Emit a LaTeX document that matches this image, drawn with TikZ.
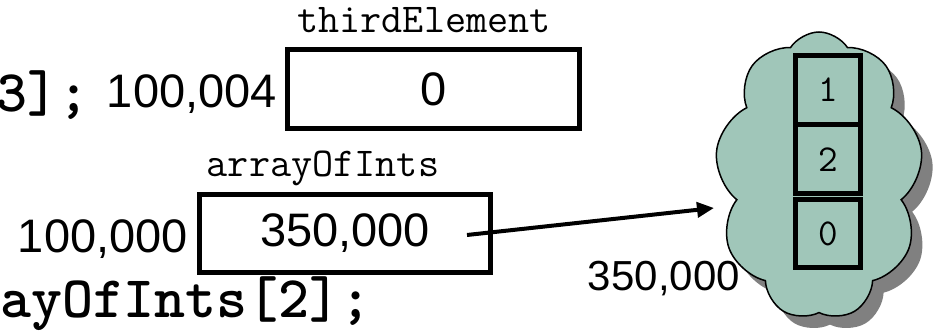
\documentclass[tikz,border=0pt]{standalone}
\usepackage{fontspec}
\setmainfont{Liberation Sans}
\newfontfamily\codebf{lmmonolt10-bold.otf}
\usetikzlibrary{shapes.symbols,arrows.meta}
\definecolor{cloudc}{RGB}{160,198,185}
\definecolor{shadowc}{RGB}{128,128,128}
\tikzset{
  membox/.style={draw, line width=5pt, inner sep=0pt, font=\fontsize{47}{50}\selectfont},
  addr/.style={inner sep=0pt, font=\fontsize{47}{50}\selectfont},
  varname/.style={inner sep=0pt, font=\ttfamily\fontsize{41}{44}\selectfont},
  codetxt/.style={inner sep=0pt, font=\codebf\fontsize{59}{62}\selectfont},
  cell/.style={draw, line width=5pt, inner sep=0pt, minimum width=65pt, minimum height=69pt, font=\ttfamily\fontsize{38}{40}\selectfont},
  heap/.style={cloud, cloud puffs=9, cloud puff arc=115, aspect=0.72, inner sep=0pt, minimum width=208pt, minimum height=288pt, line width=1.5pt},
  pointer/.style={line width=4pt, -{Triangle[length=17pt,width=15pt]}}
}
\begin{document}
\begin{tikzpicture}[x=1pt,y=-1pt]
\useasboundingbox[fill=white] (0,0) rectangle (938,336);
% code fragments
\node[codetxt, anchor=base east] (code1) at (90,112) {3];};
\node[codetxt, anchor=base east] (code2) at (372,318) {ayOfInts[2];};
% memory boxes
\node[varname, anchor=base] (lab1) at (424,33) {thirdElement};
\node[membox, minimum width=292pt, minimum height=79pt] (box1) at (433.5,89) {0};
\node[addr, anchor=base east] (addr1) at (277,108) {100,004};
\node[varname, anchor=base] (lab2) at (323,177) {arrayOfInts};
\node[membox, minimum width=291pt, minimum height=78pt] (box2) at (345,233.5) {350,000};
\node[addr, anchor=base east] (addr2) at (188,253) {100,000};
% heap cloud
\node[heap, fill=shadowc] (shadow) at (830,188) {};
\node[heap, draw, fill=cloudc] (cloud) at (819,176) {};
\node[cell] (c1) at (828,90) {1};
\node[cell] (c2) at (828,159.5) {2};
\node[cell, minimum height=68pt] (c3) at (828,233.5) {0};
\node[addr, anchor=base east, font=\fontsize{42}{45}\selectfont] (addr3) at (740,291) {350,000};
% pointer
\coordinate (pstart) at (467,235);
\coordinate (ptip) at (714,208);
\draw[pointer] (pstart) -- (ptip);
\end{tikzpicture}
\end{document}
